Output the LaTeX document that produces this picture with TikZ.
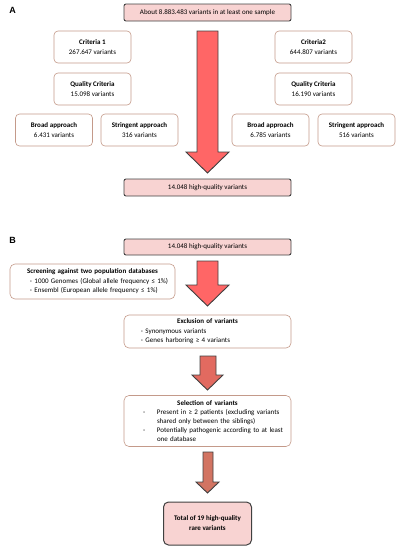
\documentclass[tikz,border=0pt]{standalone}
\usepackage{fontspec}
\setmainfont{Carlito}
\newfontfamily\labelfont{Liberation Sans}
\usepackage{xcolor}
\usepackage{tikz}
\usetikzlibrary{shapes.geometric, arrows}
\definecolor{boxpink}{HTML}{F8D3D2}
\definecolor{boxline}{HTML}{C49A8A}
\definecolor{darkline}{HTML}{404040}
\definecolor{arrowred}{HTML}{FF6666}
\definecolor{arrowdull}{HTML}{E26A60}
\definecolor{arrowbrown}{HTML}{D27462}
\tikzstyle{keystep} = [rectangle, rounded corners=2pt, minimum width=167pt, minimum height=17pt, text centered, draw=darkline, line width=0.9pt, fill=boxpink, inner sep=0pt]
\tikzstyle{countbox} = [rectangle, rounded corners=4pt, minimum width=77pt, minimum height=32pt, align=center, draw=boxline, line width=0.6pt, fill=white, inner sep=0pt]
\tikzstyle{filterbox} = [rectangle, rounded corners=5pt, draw=boxline, line width=0.6pt, fill=white, inner sep=0pt, align=left]
\tikzstyle{blockarrow} = [draw=darkline, line width=0.9pt, fill=arrowred, line join=miter]
\tikzstyle{panel} = [font=\labelfont\bfseries\fontsize{9}{9}\selectfont, inner sep=0pt]

\begin{document}
\begin{tikzpicture}[x=1pt, y=-1pt, font=\fontsize{7}{9.5}\selectfont]
      \useasboundingbox (0,0) rectangle (400,550);
      % panel A
      \node (labA) [panel] at (12.5,10) {A};
      \node (all) [keystep] at (207.5,12.5) {About 8.883.483 variants in at least one sample};
      \node (crit1) [countbox] at (92.5,47) {\textbf{Criteria 1}\\267.647 variants};
      \node (crit2) [countbox] at (313.5,47) {\textbf{Criteria2}\\644.807 variants};
      \node (qual1) [countbox] at (92.5,89) {\textbf{Quality Criteria}\\15.098 variants};
      \node (qual2) [countbox] at (313.5,89) {\textbf{Quality Criteria}\\16.190 variants};
      \node (broad1) [countbox] at (54,130) {\textbf{Broad approach}\\6.431 variants};
      \node (strin1) [countbox] at (139.5,130) {\textbf{Stringent approach}\\316 variants};
      \node (broad2) [countbox] at (270.5,130) {\textbf{Broad approach}\\6.785 variants};
      \node (strin2) [countbox] at (356.5,130) {\textbf{Stringent approach}\\516 variants};
      \node (hqA) [keystep] at (207.5,187.5) {14.048 high-quality variants};
      \draw [blockarrow] (197,31) -- (218,31) -- (218,152) -- (229,152) -- (207.5,173) -- (186,152) -- (197,152) -- cycle;
      % panel B
      \node (labB) [panel] at (12.5,240) {B};
      \node (hqB) [keystep, minimum height=16pt] at (207.5,247) {14.048 high-quality variants};
      \node (screen) [filterbox, text width=165pt, minimum height=35pt] at (92.5,281.5)
        {\makebox[\linewidth][c]{\textbf{Screening against two population databases}}\\\hspace*{20pt}- 1000 Genomes (Global allele frequency ≤ 1\%)\\\hspace*{20pt}- Ensembl (European allele frequency ≤ 1\%)};
      \node (excl) [filterbox, text width=167pt, minimum height=33pt] at (207.5,331.5)
        {\makebox[\linewidth][c]{\textbf{Exclusion of variants}}\\\hspace*{17pt}- Synonymous variants\\\hspace*{17pt}- Genes harboring ≥ 4 variants};
      \node (select) [filterbox, text width=167pt, minimum height=51pt, font=\fontsize{7}{9}\selectfont] at (207.5,421)
        {\makebox[\linewidth][c]{\textbf{Selection of variants}}\\\hspace*{19pt}\makebox[14pt][l]{-}Present in ≥ 2 patients (excluding variants\\\hspace*{33pt}shared only between the siblings)\\\hspace*{19pt}\makebox[14pt][l]{-}Potentially pathogenic according to at least\\\hspace*{33pt}one database};
      \node (total) [keystep, rounded corners=5pt, minimum width=88pt, minimum height=43pt, align=center, line width=1pt, font=\bfseries\fontsize{7}{10}\selectfont] at (207.5,523.5)
        {Total of 19 high-quality\\rare variants};
      \draw [blockarrow] (197,261) -- (218,261) -- (218,285) -- (229,285) -- (207.5,306) -- (186,285) -- (197,285) -- cycle;
      \draw [blockarrow, fill=arrowdull] (200,356) -- (216,356) -- (216,375) -- (223,375) -- (207.5,390) -- (192,375) -- (200,375) -- cycle;
      \draw [blockarrow, fill=arrowbrown] (203,452) -- (213,452) -- (213,482) -- (219,482) -- (207.5,493) -- (196,482) -- (203,482) -- cycle;
\end{tikzpicture}
\end{document}
